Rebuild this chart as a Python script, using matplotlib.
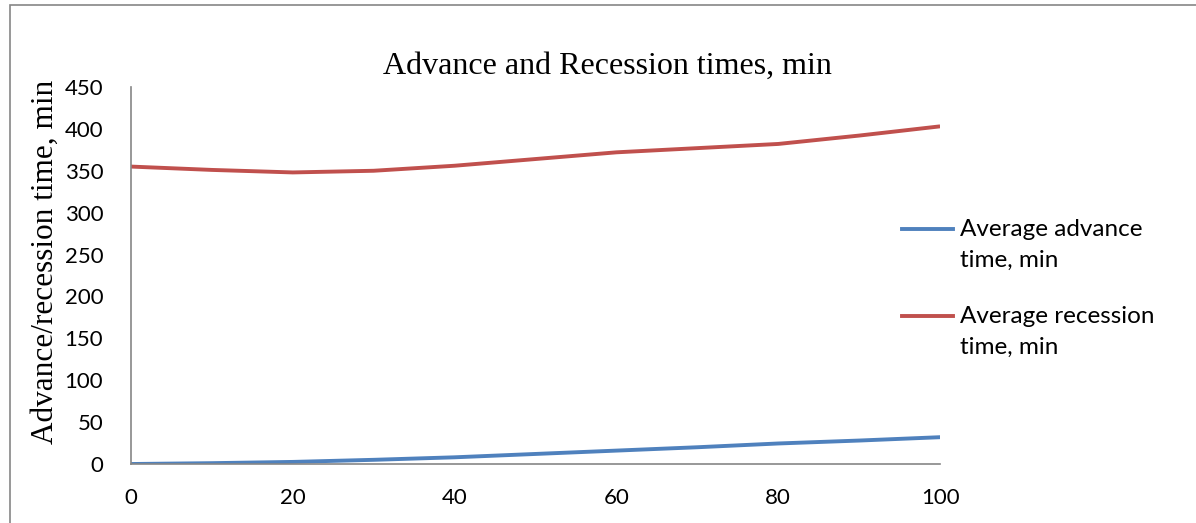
import matplotlib.pyplot as plt
from matplotlib.lines import Line2D
from matplotlib.patches import Rectangle

x_vals = [0, 10, 20, 30, 40, 50, 60, 70, 80, 90, 100]
advance = [0, 1, 2.5, 5, 8, 12, 16, 20, 24.5, 28, 32]
recession = [355, 351, 348, 350, 356, 364, 372, 377, 382, 392, 403]
labels = ["Average advance\ntime, min", "Average recession\ntime, min"]
colors = ["#4F81BD", "#C0504D"]

fig = plt.figure(figsize=(11.96, 5.23), dpi=100)
ax = fig.add_axes([0.1095, 0.1128, 0.6765, 0.7209])

ax.plot(x_vals, advance, color=colors[0], lw=2.8, solid_capstyle="butt")
ax.plot(x_vals, recession, color=colors[1], lw=2.8, solid_capstyle="butt")

ax.set_xlim(0, 100)
ax.set_ylim(0, 450)
ax.set_xticks(range(0, 101, 20))
ax.set_yticks(range(0, 451, 50))
for s in ["top", "right"]:
    ax.spines[s].set_visible(False)
for s in ["left", "bottom"]:
    ax.spines[s].set_color("#868686")
    ax.spines[s].set_linewidth(1.2)
ax.tick_params(axis="both", length=0, labelsize=16)
ax.tick_params(axis="y", pad=20)
ax.tick_params(axis="x", pad=17)
for t in ax.get_xticklabels() + ax.get_yticklabels():
    t.set_fontfamily("Lato")

ax.set_ylabel("Advance/recession time, min", fontfamily="Liberation Serif",
              fontsize=22.5)
ax.yaxis.set_label_coords(-0.088, 0.535)
fig.text(0.5075, 0.873, "Advance and Recession times, min",
         fontfamily="Liberation Serif", fontsize=23, ha="center", va="center")

# legend drawn by hand so the line sits on the first text row
leg_y = [229, 316]
for i in range(2):
    yf = 1 - leg_y[i] / 523
    fig.add_artist(Line2D([902 / 1196, 953 / 1196], [yf, yf], transform=fig.transFigure,
                          color=colors[i], lw=2.8))
    fig.text(960 / 1196, yf + 10 / 523, labels[i], fontfamily="Lato", fontsize=17.5,
             ha="left", va="top", linespacing=1.6)

fig.add_artist(Rectangle((10 / 1196, -0.1), 1.2, 1.09, transform=fig.transFigure,
                         fill=False, edgecolor="#868686", lw=1.2))

fig.savefig("out.png", dpi=100)
